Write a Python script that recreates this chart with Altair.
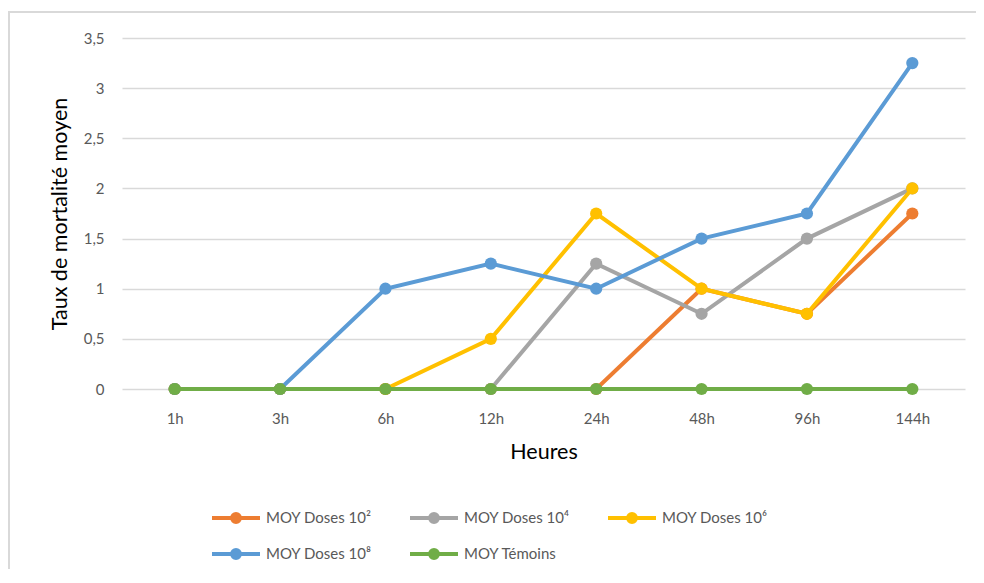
import altair as alt
import pandas as pd

hours = ["1h", "3h", "6h", "12h", "24h", "48h", "96h", "144h"]
series_names = ["MOY Doses 10²", "MOY Doses 10⁴", "MOY Doses 10⁶", "MOY Doses 10⁸", "MOY Témoins"]
doses_1e2 = [0, 0, 0, 0, 0, 1, 0.75, 1.75]
doses_1e4 = [0, 0, 0, 0, 1.25, 0.75, 1.5, 2]
doses_1e6 = [0, 0, 0, 0.5, 1.75, 1, 0.75, 2]
doses_1e8 = [0, 0, 1, 1.25, 1, 1.5, 1.75, 3.25]
temoins = [0, 0, 0, 0, 0, 0, 0, 0]
colors = ["#ED7D31", "#A5A5A5", "#FFC000", "#5B9BD5", "#70AD47"]
y_ticks = [0, 0.5, 1, 1.5, 2, 2.5, 3, 3.5]

all_values = [doses_1e2, doses_1e4, doses_1e6, doses_1e8, temoins]
rows = []
for name, vals in zip(series_names, all_values):
    for h, v in zip(hours, vals):
        rows.append({"Heure": h, "Taux": v, "Serie": name})
df = pd.DataFrame(rows)

FONT = "Lato"
sym_path = "M-2,0L2,0M-0.33,0A0.33,0.33,0,1,1,0.33,0A0.33,0.33,0,1,1,-0.33,0Z"

legend = alt.Legend(
    title=None,
    orient="none",
    legendX=100,
    legendY=466,
    direction="horizontal",
    columns=3,
    columnPadding=30,
    rowPadding=10,
    padding=0,
    symbolType=sym_path,
    symbolSize=576,
    symbolStrokeWidth=4,
    symbolOpacity=1,
    labelOffset=16,
    labelFont=FONT,
    labelFontSize=15,
    labelColor="#595959",
    labelLimit=300,
)
scale = alt.Scale(domain=series_names, range=colors)
stroke_enc = alt.Color("Serie:N", scale=scale, legend=legend)
fill_enc = alt.Fill("Serie:N", scale=scale, legend=legend)

x = alt.X(
    "Heure:N",
    sort=hours,
    scale=alt.Scale(type="point", padding=0.5),
    axis=alt.Axis(
        title="Heures",
        domain=False,
        ticks=False,
        grid=False,
        labelAngle=0,
        labelPadding=22,
        labelFont=FONT,
        labelFontSize=15,
        labelColor="#595959",
        titleFont=FONT,
        titleFontSize=21.5,
        titleFontWeight="normal",
        titleColor="#000000",
        titlePadding=15,
    ),
)
y = alt.Y(
    "Taux:Q",
    scale=alt.Scale(domain=[0, 3.5], nice=False),
    axis=alt.Axis(
        title="Taux de mortalité moyen",
        values=y_ticks,
        labelExpr="replace(format(datum.value, ''), '.', ',')",
        domain=False,
        ticks=False,
        grid=True,
        gridColor="#d9d9d9",
        gridWidth=1.3,
        labelPadding=18,
        labelFont=FONT,
        labelFontSize=15,
        labelColor="#595959",
        titleFont=FONT,
        titleFontSize=21.5,
        titleFontWeight="normal",
        titleColor="#000000",
        titlePadding=12,
    ),
)

frame = alt.Chart(pd.DataFrame({"a": [0]})).mark_rect(
    fill=None, stroke="#d9d9d9", strokeWidth=2
).encode(
    x=alt.value(-113), x2=alt.value(900), y=alt.value(-26), y2=alt.value(700)
)

layers = [frame]
for name in series_names:
    base = alt.Chart(df).transform_filter(alt.datum.Serie == name)
    layers.append(base.mark_line(strokeWidth=4).encode(x=x, y=y, color=stroke_enc))
    layers.append(
        base.mark_point(filled=True, size=150, opacity=1, shape="circle")
        .encode(x=x, y=y, fill=fill_enc)
    )

chart = alt.layer(*layers).properties(
    width=843,
    height=351,
    autosize=alt.AutoSizeParams(type="none"),
    padding={"left": 114, "top": 30, "right": 11, "bottom": 180},
    background="white",
).configure_view(stroke=None)

chart.save("out.html", embed_options={"renderer": "svg", "actions": False})
